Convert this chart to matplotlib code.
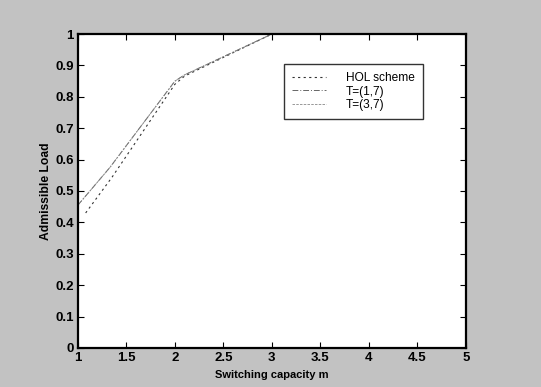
import matplotlib
matplotlib.use("Agg")
import matplotlib.pyplot as plt

plt.rcParams['font.family'] = ['Liberation Sans', 'DejaVu Sans']

# data
x_hol = [1.08, 1.35, 2.0, 2.1, 3.0]
y_hol = [0.43, 0.543, 0.84, 0.866, 1.0]
x_t17 = [1.0, 1.33, 2.0, 2.1, 3.0]
y_t17 = [0.455, 0.575, 0.85, 0.87, 1.0]
x_t37 = [1.0, 1.33, 2.0, 2.1, 3.0]
y_t37 = [0.455, 0.575, 0.85, 0.87, 1.0]
labels = ['HOL scheme', 'T=(1,7)', 'T=(3,7)']
xticks = [1, 1.5, 2, 2.5, 3, 3.5, 4, 4.5, 5]
xticklabels = ['1', '1.5', '2', '2.5', '3', '3.5', '4', '4.5', '5']
yticks = [0, 0.1, 0.2, 0.3, 0.4, 0.5, 0.6, 0.7, 0.8, 0.9, 1]
yticklabels = ['0', '0.1', '0.2', '0.3', '0.4', '0.5', '0.6', '0.7', '0.8', '0.9', '1']

fig = plt.figure(figsize=(5.41, 3.87), dpi=100, facecolor='#c2c2c2')
ax = fig.add_axes([0.144, 0.101, 0.717, 0.811])
ax.set_facecolor('white')

l1, = ax.plot(x_hol, y_hol, color='#333333', lw=0.8, linestyle=(0, (2, 3)))
l2, = ax.plot(x_t17, y_t17, color='#666666', lw=0.7, linestyle=(0, (6, 2, 1, 2)))
l3, = ax.plot(x_t37, y_t37, color='#888888', lw=0.6, linestyle=(0, (3, 1.5)))

ax.set_xlim(1, 5)
ax.set_ylim(0, 1)
ax.set_xticks(xticks)
ax.set_xticklabels(xticklabels)
ax.set_yticks(yticks)
ax.set_yticklabels(yticklabels)
ax.tick_params(direction='in', top=True, right=True, length=4, width=0.8,
               labelsize=9.5, colors='black', pad=3)
for lab in ax.get_xticklabels() + ax.get_yticklabels():
    lab.set_fontweight('bold')
for s in ax.spines.values():
    s.set_linewidth(1.6)
    s.set_color('black')

ax.set_xlabel('Switching capacity m', fontsize=8, fontweight='bold', labelpad=4)
ax.set_ylabel('Admissible Load', fontsize=8.7, fontweight='bold', labelpad=2)

leg = ax.legend([l1, l2, l3], labels, loc='upper left', bbox_to_anchor=(0.531, 0.905),
                frameon=True, fancybox=False, edgecolor='black', fontsize=8.6,
                handlelength=2.8, handletextpad=1.7, borderpad=0.7, labelspacing=0.12,
                borderaxespad=0)
leg.get_frame().set_linewidth(1.0)

fig.savefig('out.png', dpi=100, facecolor=fig.get_facecolor())
